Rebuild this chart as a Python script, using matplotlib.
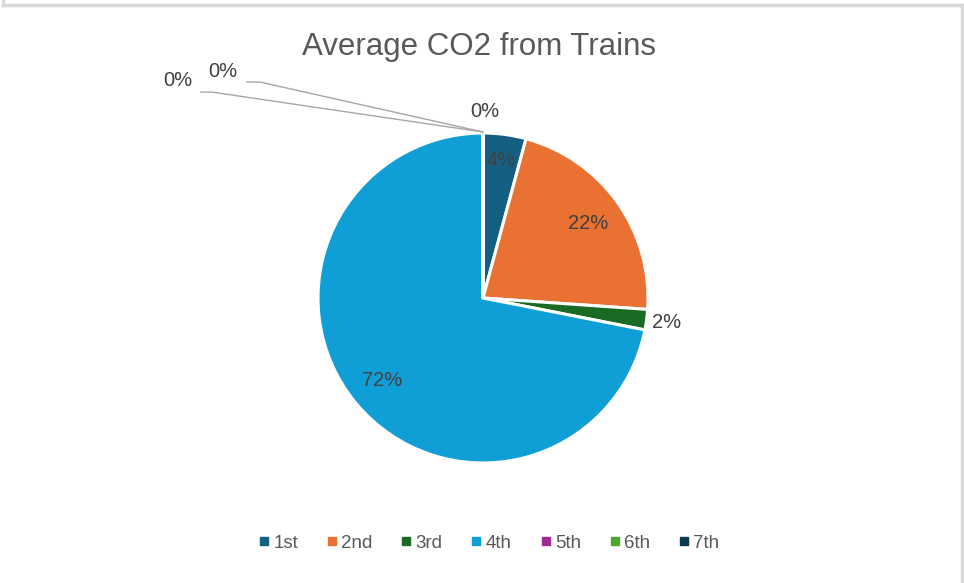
import numpy as np
import matplotlib.pyplot as plt
from matplotlib.lines import Line2D

plt.rcParams['font.family'] = ['Liberation Sans Narrow', 'Liberation Sans', 'DejaVu Sans']

# Share of average CO2 per class
classes = ['1st', '2nd', '3rd', '4th', '5th', '6th', '7th']
shares = [4.2, 21.9, 2.0, 71.9, 0.0, 0.0, 0.0]
colors = ['#156082', '#E97132', '#196B24', '#0F9ED5', '#A02B93', '#4EA72E', '#0E3A50']

text_col = '#404040'

fig = plt.figure(figsize=(9.64, 5.83), dpi=100)
W, H = 964, 583

# chart border (light grey frame)
for xs, ys in [([3, 3], [0, 5]), ([3, 962], [5, 5]), ([962, 962], [5, 583])]:
    fig.add_artist(Line2D([x / W for x in xs], [1 - y / H for y in ys],
                          color='#D9D9D9', lw=2.5, transform=fig.transFigure))

cx, cy, r = 483, 298, 165
ax = fig.add_axes([(cx - r) / W, (H - cy - r) / H, 2 * r / W, 2 * r / H])
wedges, _ = ax.pie(shares, colors=colors, startangle=90, counterclock=False,
                   radius=1, wedgeprops=dict(edgecolor='white', linewidth=2.2))
ax.set_xlim(-1, 1)
ax.set_ylim(-1, 1)
ax.set_aspect('equal')
ax.axis('off')

total = sum(shares)
labels = [f"{round(v / total * 100)}%" for v in shares]
lbl_size = 14.5

# label radius for the visible slices
label_r = {0: 0.84, 1: 0.78, 2: 1.12, 3: 0.79}
for i, w in enumerate(wedges[:4]):
    mid = np.deg2rad((w.theta1 + w.theta2) / 2)
    rr = label_r[i]
    ax.text(rr * np.cos(mid), rr * np.sin(mid), labels[i], ha='center', va='center',
            fontsize=lbl_size, color=text_col)

# zero slices sit at the top, two of them pushed out with leader lines
ax.text(0.01, 1.13, labels[4], ha='center', va='center', fontsize=lbl_size, color=text_col)
lead = [(labels[5], (-1.576, 1.37), [(-1.43, 1.309), (-1.352, 1.309)]),
        (labels[6], (-1.848, 1.321), [(-1.71, 1.248), (-1.642, 1.248)])]
for txt, pos, pts in lead:
    ax.text(pos[0], pos[1], txt, ha='center', va='center', fontsize=lbl_size, color=text_col)
    xs = [p[0] for p in pts] + [0.0]
    ys = [p[1] for p in pts] + [1.006]
    ax.plot(xs, ys, color='#A6A6A6', lw=1, clip_on=False)

fig.text(479 / W, 1 - 47 / H, 'Average CO2 from Trains', ha='center', va='center',
         fontsize=22.5, color='#595959')

handles = [Line2D([], [], marker='s', ls='', color=c, markersize=5.5) for c in colors]
fig.legend(handles, classes, loc='center', bbox_to_anchor=(487 / W, 1 - 543 / H),
           ncol=7, frameon=False, fontsize=13.5, handletextpad=0.0, columnspacing=1.3,
           labelcolor='#595959', handlelength=1.0)

fig.savefig('out.png', dpi=100)
